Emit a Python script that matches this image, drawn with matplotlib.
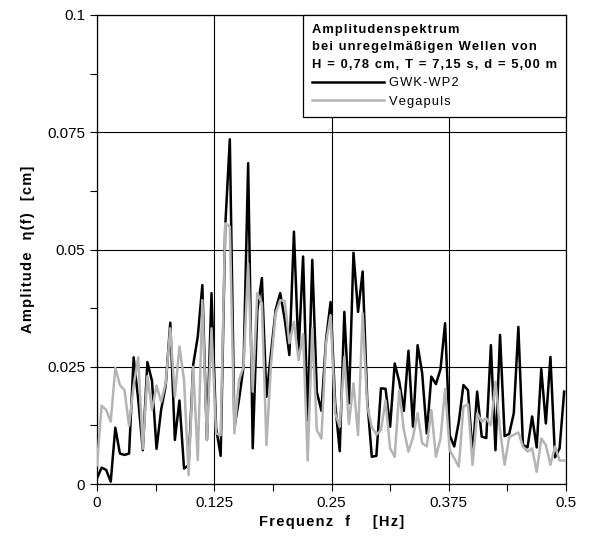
import numpy as np
import matplotlib
matplotlib.use("Agg")
import matplotlib.pyplot as plt
from matplotlib.ticker import MultipleLocator

plt.rcParams['font.family'] = ['Liberation Sans', 'DejaVu Sans']

# frequency step of the spectrum
df = 1 / 204.8

# amplitudes [cm]
gwk_wp2 = [0.0012, 0.0035, 0.003, 0.0005, 0.012, 0.0065, 0.0062, 0.0065, 0.027, 0.018,
           0.0072, 0.026, 0.022, 0.0075, 0.0158, 0.021, 0.0344, 0.0094, 0.0178, 0.0033,
           0.004, 0.0254, 0.0314, 0.0424, 0.0094, 0.0407, 0.012, 0.006, 0.0549, 0.0735,
           0.012, 0.018, 0.025, 0.0684, 0.0076, 0.037, 0.0439, 0.0186, 0.028, 0.0371,
           0.0407, 0.035, 0.0275, 0.0538, 0.028, 0.0485, 0.0136, 0.0478, 0.0196, 0.0156,
           0.0307, 0.0388, 0.0172, 0.007, 0.0367, 0.0172, 0.0493, 0.0367, 0.0453, 0.0179,
           0.0058, 0.006, 0.0204, 0.0203, 0.0122, 0.0257, 0.0218, 0.0156, 0.0284, 0.0122,
           0.0296, 0.0236, 0.0108, 0.0229, 0.0213, 0.0245, 0.0343, 0.0104, 0.008, 0.0133,
           0.0211, 0.020, 0.0062, 0.0197, 0.0101, 0.0098, 0.0296, 0.0072, 0.0318, 0.0102,
           0.0107, 0.0151, 0.0335, 0.0083, 0.0078, 0.0144, 0.0078, 0.0245, 0.0129, 0.0271,
           0.0057, 0.0076, 0.0197]
vegapuls = [0.004, 0.0167, 0.0158, 0.0133, 0.0248, 0.0211, 0.020, 0.0124, 0.021, 0.027,
            0.0075, 0.023, 0.0158, 0.021, 0.0175, 0.0215, 0.0332, 0.0186, 0.0293, 0.0222,
            0.0019, 0.025, 0.0051, 0.0392, 0.0094, 0.0332, 0.0108, 0.0104, 0.0556, 0.0549,
            0.0108, 0.0222, 0.025, 0.047, 0.0197, 0.0407, 0.0385, 0.0083, 0.0256, 0.0364,
            0.0392, 0.039, 0.030, 0.0346, 0.0264, 0.032, 0.005, 0.0332, 0.0115, 0.0097,
            0.030, 0.036, 0.0151, 0.0122, 0.0271, 0.0128, 0.0215, 0.0104, 0.0364, 0.0166,
            0.0122, 0.0105, 0.0115, 0.0178, 0.0076, 0.0058, 0.020, 0.0115, 0.0069, 0.010,
            0.0151, 0.0087, 0.008, 0.0158, 0.0058, 0.0097, 0.0203, 0.0072, 0.0055, 0.0037,
            0.0165, 0.017, 0.0041, 0.0151, 0.0133, 0.014, 0.0125, 0.0218, 0.0115, 0.0041,
            0.010, 0.0105, 0.011, 0.008, 0.0069, 0.0076, 0.0026, 0.0097, 0.0083, 0.0041,
            0.008, 0.005, 0.005]
freq = np.arange(len(gwk_wp2)) * df

xticks = [0, 0.125, 0.25, 0.375, 0.5]
xticklabels = ['0', '0.125', '0.25', '0.375', '0.5']
yticks = [0, 0.025, 0.05, 0.075, 0.1]
yticklabels = ['0', '0.025', '0.05', '0.075', '0.1']

legend_title = ['Amplitudenspektrum',
                'bei unregelmäßigen Wellen von',
                'H = 0,78 cm, T = 7,15 s, d = 5,00 m']


def spaced(s):
    # the original uses widened character spacing
    return '\u200a'.join(s)


fig = plt.figure(figsize=(5.93, 5.37), dpi=100)
ax = fig.add_axes([97 / 593, 1 - 484 / 537, 469 / 593, 469 / 537])

ax.plot(freq, gwk_wp2, color='black', lw=1.8, label=spaced('GWK-WP2'), zorder=3)
ax.plot(freq, vegapuls, color='#b4b4b4', lw=1.8, label=spaced('Vegapuls'), zorder=4)

ax.set_xlim(0, 0.5)
ax.set_ylim(0, 0.1)
ax.set_xticks(xticks)
ax.set_xticklabels(xticklabels)
ax.set_yticks(yticks)
ax.set_yticklabels(yticklabels)
ax.xaxis.set_minor_locator(MultipleLocator(0.0625))
ax.yaxis.set_minor_locator(MultipleLocator(0.0125))
ax.tick_params(which='both', direction='out', length=5, width=0.8, colors='black',
               labelsize=11)
ax.grid(True, which='major', color='black', lw=0.8)
for sp in ax.spines.values():
    sp.set_linewidth(0.9)

ax.set_xlabel(spaced('Frequenz  f    [Hz]'), fontsize=10.5, fontweight='bold', labelpad=4)
ax.set_ylabel(spaced('Amplitude  η(f)  [cm]'), fontsize=10.5, fontweight='bold', labelpad=9)

leg = ax.legend(loc='upper right', borderaxespad=0, fancybox=False, framealpha=1,
                edgecolor='black', fontsize=9.3, handlelength=5.6, handletextpad=0.35,
                labelspacing=0.5, borderpad=0.7,
                title='\n'.join(spaced(t) for t in legend_title),
                title_fontproperties={'weight': 'bold', 'size': 9.3},
                alignment='left')
leg.get_frame().set_linewidth(0.9)
leg.get_title().set_linespacing(1.6)
leg.set_zorder(10)

fig.savefig('out.png', dpi=100)
